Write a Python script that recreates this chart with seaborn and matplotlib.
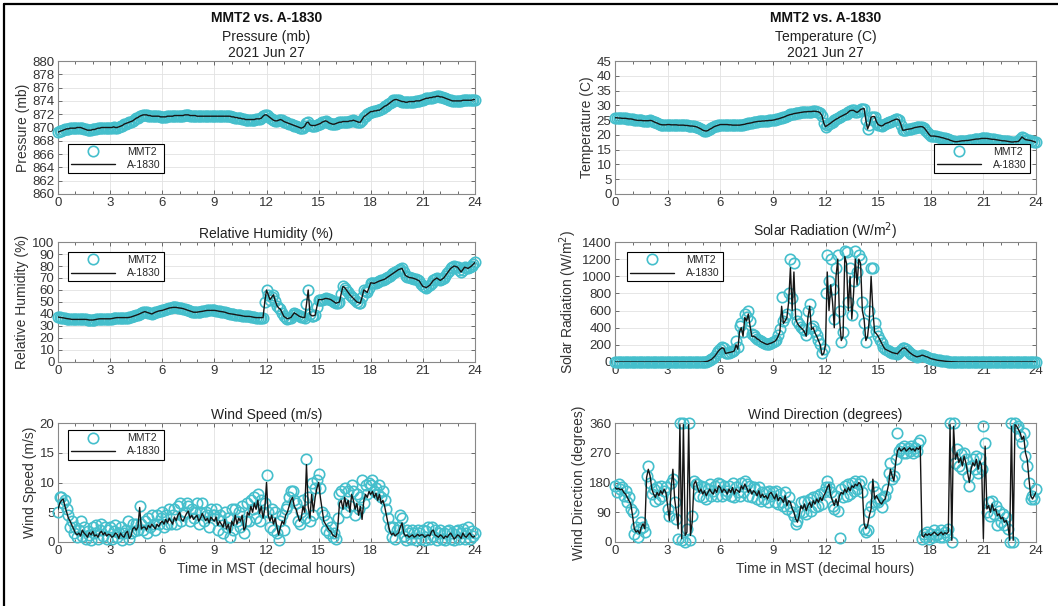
import numpy as np
import matplotlib
matplotlib.use("Agg")
import matplotlib.pyplot as plt
import seaborn as sns
from matplotlib.lines import Line2D
from matplotlib.ticker import MultipleLocator

# one reading every 6 minutes, 0..24 h MST (241 samples)
hours = np.linspace(0, 24, 241)

# each line = 1.5 hours (15 readings); final value is 24:00
pressure = [
    869.3, 869.4, 869.5, 869.6, 869.7, 869.8, 869.8, 869.9, 869.9, 869.9, 869.9, 870.0, 870.0, 870.0, 869.9,
    869.8, 869.7, 869.6, 869.6, 869.6, 869.7, 869.7, 869.8, 869.9, 869.9, 870.0, 870.0, 870.0, 870.0, 870.0,
    870.0, 870.0, 870.1, 870.0, 870.0, 870.1, 870.2, 870.3, 870.5, 870.6, 870.7, 870.8, 870.9, 871.0, 871.2,
    871.4, 871.5, 871.7, 871.8, 871.9, 871.9, 871.9, 871.8, 871.8, 871.7, 871.7, 871.7, 871.7, 871.7, 871.6,
    871.6, 871.6, 871.6, 871.7, 871.7, 871.7, 871.7, 871.8, 871.8, 871.8, 871.8, 871.8, 871.8, 871.9, 871.9,
    871.9, 871.8, 871.8, 871.8, 871.8, 871.7, 871.7, 871.7, 871.7, 871.7, 871.7, 871.7, 871.7, 871.7, 871.7,
    871.7, 871.7, 871.7, 871.7, 871.7, 871.7, 871.7, 871.7, 871.7, 871.7, 871.6, 871.6, 871.5, 871.5, 871.4,
    871.4, 871.3, 871.3, 871.2, 871.2, 871.2, 871.2, 871.2, 871.2, 871.3, 871.3, 871.3, 871.4, 871.7, 871.9,
    871.9, 871.7, 871.5, 871.3, 871.1, 871.0, 871.0, 871.1, 871.2, 871.1, 870.9, 870.8, 870.7, 870.6, 870.5,
    870.4, 870.3, 870.2, 870.1, 870.0, 869.9, 870.0, 870.2, 870.7, 870.8, 870.4, 870.3, 870.3, 870.3, 870.4,
    870.5, 870.6, 870.8, 870.9, 871.0, 870.9, 870.7, 870.6, 870.5, 870.5, 870.6, 870.7, 870.8, 870.8, 870.9,
    870.9, 870.9, 870.9, 871.0, 871.0, 871.1, 871.0, 870.9, 870.8, 870.8, 871.2, 871.6, 871.8, 872.0, 872.2,
    872.4, 872.4, 872.5, 872.5, 872.6, 872.6, 872.8, 873.0, 873.2, 873.3, 873.5, 873.7, 873.9, 874.1, 874.2,
    874.2, 874.1, 874.0, 873.9, 873.9, 873.8, 873.8, 873.9, 873.9, 873.9, 873.9, 874.0, 874.0, 874.0, 874.1,
    874.2, 874.3, 874.4, 874.4, 874.5, 874.5, 874.6, 874.6, 874.7, 874.7, 874.6, 874.6, 874.5, 874.4, 874.3,
    874.2, 874.1, 874.0, 874.0, 874.0, 874.0, 874.0, 874.0, 874.1, 874.1, 874.1, 874.1, 874.1, 874.1, 874.2,
    874.2,
]

temperature = [
    25.8, 25.8, 25.7, 25.7, 25.6, 25.6, 25.6, 25.5, 25.4, 25.4, 25.3, 25.1, 25.0, 24.9, 24.9,
    24.9, 24.8, 24.8, 24.8, 24.8, 24.9, 24.8, 24.5, 24.2, 24.0, 23.7, 23.5, 23.4, 23.4, 23.4,
    23.5, 23.5, 23.4, 23.4, 23.4, 23.4, 23.3, 23.3, 23.3, 23.3, 23.2, 23.2, 23.1, 23.0, 23.0,
    22.9, 22.8, 22.6, 22.3, 22.0, 21.6, 21.4, 21.3, 21.5, 21.9, 22.2, 22.6, 22.9, 23.1, 23.3,
    23.5, 23.5, 23.5, 23.5, 23.5, 23.4, 23.4, 23.3, 23.3, 23.3, 23.3, 23.3, 23.4, 23.5, 23.6,
    23.8, 23.9, 24.0, 24.1, 24.3, 24.4, 24.5, 24.6, 24.6, 24.7, 24.7, 24.8, 24.8, 24.9, 24.9,
    25.0, 25.1, 25.3, 25.4, 25.6, 25.8, 26.0, 26.2, 26.5, 26.7, 26.9, 27.0, 27.2, 27.3, 27.4,
    27.5, 27.6, 27.7, 27.8, 27.8, 27.9, 27.9, 27.9, 28.0, 28.0, 27.9, 27.8, 27.4, 26.5, 24.0,
    22.8, 23.2, 23.6, 24.0, 24.5, 24.9, 25.3, 25.6, 26.0, 26.3, 26.6, 26.9, 27.2, 27.7, 28.2,
    28.3, 28.3, 27.9, 27.6, 28.0, 28.6, 28.8, 28.9, 25.0, 22.0, 23.5, 26.0, 26.2, 26.2, 24.5,
    23.5, 23.2, 23.0, 23.3, 23.8, 24.0, 24.2, 24.5, 24.8, 25.0, 25.3, 25.3, 25.0, 23.5, 21.6,
    21.6, 21.8, 21.9, 22.0, 22.1, 22.3, 22.5, 22.6, 22.7, 22.8, 22.8, 22.5, 21.8, 21.0, 20.2,
    19.6, 19.6, 19.6, 19.5, 19.4, 19.3, 19.1, 19.0, 18.8, 18.6, 18.5, 18.2, 18.0, 17.8, 17.7,
    17.7, 17.8, 17.9, 18.0, 18.0, 18.1, 18.1, 18.2, 18.3, 18.4, 18.5, 18.6, 18.6, 18.7, 18.8,
    18.8, 18.8, 18.8, 18.7, 18.6, 18.5, 18.5, 18.4, 18.3, 18.2, 18.1, 18.0, 18.0, 17.9, 17.8,
    17.7, 17.6, 17.6, 17.7, 17.7, 17.8, 18.5, 19.3, 18.8, 18.4, 18.3, 18.2, 18.1, 17.9, 17.7,
    17.5,
]

humidity = [
    37.5, 37.2, 37.0, 36.8, 36.5, 36.2, 36.0, 35.8, 35.5, 35.5, 35.5, 35.5, 35.5, 35.5, 35.5,
    35.5, 35.5, 35.3, 35.0, 35.0, 35.0, 35.2, 35.5, 35.8, 36.0, 36.0, 36.0, 36.0, 36.0, 36.0,
    36.0, 36.2, 36.5, 36.8, 37.0, 37.0, 37.0, 37.0, 37.0, 37.0, 37.0, 37.2, 37.5, 38.0, 38.5,
    39.0, 39.5, 40.2, 41.0, 41.5, 42.0, 41.5, 41.0, 40.5, 40.0, 40.8, 41.5, 42.0, 42.5, 42.8,
    43.0, 43.5, 44.0, 44.5, 45.0, 45.2, 45.5, 45.5, 45.5, 45.2, 45.0, 44.8, 44.5, 44.0, 43.5,
    43.0, 42.5, 42.0, 41.5, 41.5, 41.5, 41.8, 42.0, 42.2, 42.5, 42.8, 43.0, 43.0, 43.0, 43.0,
    43.0, 42.8, 42.5, 42.2, 42.0, 41.8, 41.5, 41.0, 40.5, 40.2, 40.0, 39.8, 39.5, 39.2, 39.0,
    38.8, 38.5, 38.2, 38.0, 38.0, 38.0, 37.8, 37.5, 37.2, 37.0, 37.0, 37.0, 37.0, 37.0, 50.0,
    60.0, 56.0, 52.0, 54.0, 56.0, 51.0, 47.0, 45.0, 44.0, 41.0, 38.0, 37.0, 36.0, 36.5, 37.0,
    39.0, 41.0, 40.0, 39.0, 38.0, 37.5, 37.2, 37.0, 48.0, 60.0, 40.0, 38.5, 38.5, 39.0, 46.0,
    52.0, 52.0, 52.0, 52.5, 53.0, 52.8, 52.5, 52.0, 51.0, 50.0, 49.0, 49.5, 50.0, 57.0, 63.0,
    62.0, 60.0, 58.0, 56.0, 54.5, 53.0, 51.5, 50.0, 49.5, 49.0, 54.0, 60.0, 59.0, 58.0, 62.0,
    66.0, 65.8, 65.5, 66.2, 67.0, 67.5, 68.0, 68.5, 69.0, 70.0, 71.0, 72.0, 73.0, 74.0, 75.0,
    76.0, 77.0, 77.5, 78.0, 75.0, 72.0, 71.2, 70.5, 70.2, 70.0, 69.5, 69.0, 68.2, 67.5, 65.0,
    63.0, 62.5, 62.0, 63.0, 64.0, 66.0, 68.0, 69.0, 70.0, 69.0, 68.0, 69.0, 70.0, 72.0, 74.0,
    76.0, 78.0, 79.0, 80.0, 79.5, 79.0, 77.0, 75.0, 77.0, 79.0, 78.5, 78.0, 79.0, 80.0, 81.5,
    83.0,
]

solar_a1830 = [
    0, 0, 0, 0, 0, 0, 0, 0, 0, 0, 0, 0, 0, 0, 0,
    0, 0, 0, 0, 0, 0, 0, 0, 0, 0, 0, 0, 0, 0, 0,
    0, 0, 0, 0, 0, 0, 0, 0, 0, 0, 0, 0, 0, 0, 0,
    0, 0, 0, 0, 0, 0, 2, 5, 10, 20, 30, 50, 70, 100, 130,
    150, 165, 160, 100, 105, 110, 115, 120, 130, 200, 150, 350, 400, 300, 520,
    480, 560, 420, 300, 300, 290, 270, 260, 240, 230, 220, 210, 205, 215, 220,
    230, 240, 260, 300, 350, 650, 450, 480, 520, 700, 1100, 600, 1050, 500, 450,
    420, 400, 380, 350, 300, 520, 650, 380, 400, 340, 300, 250, 200, 80, 100,
    200, 1050, 600, 900, 700, 400, 1000, 1200, 500, 250, 300, 1230, 1150, 600, 1000,
    500, 800, 1200, 900, 1200, 1150, 600, 500, 250, 300, 500, 1000, 600, 350, 330,
    300, 260, 220, 180, 150, 140, 130, 120, 110, 105, 100, 95, 120, 140, 160,
    165, 150, 130, 110, 95, 80, 70, 60, 65, 70, 80, 75, 65, 60, 50,
    40, 35, 30, 25, 20, 18, 15, 12, 10, 7, 5, 4, 3, 2, 1,
    0, 0, 0, 0, 0, 0, 0, 0, 0, 0, 0, 0, 0, 0, 0,
    0, 0, 0, 0, 0, 0, 0, 0, 0, 0, 0, 0, 0, 0, 0,
    0, 0, 0, 0, 0, 0, 0, 0, 0, 0, 0, 0, 0, 0, 0,
    0,
]

solar_mmt2 = [
    0, 0, 0, 0, 0, 0, 0, 0, 0, 0, 0, 0, 0, 0, 0,
    0, 0, 0, 0, 0, 0, 0, 0, 0, 0, 0, 0, 0, 0, 0,
    0, 0, 0, 0, 0, 0, 0, 0, 0, 0, 0, 0, 0, 0, 0,
    0, 0, 0, 0, 0, 0, 2, 5, 10, 20, 30, 50, 70, 100, 130,
    150, 170, 165, 110, 105, 110, 120, 125, 140, 250, 180, 420, 450, 350, 560,
    520, 600, 480, 330, 310, 290, 270, 260, 240, 230, 220, 210, 205, 215, 220,
    230, 240, 260, 320, 380, 760, 480, 520, 560, 800, 1200, 750, 1150, 560, 480,
    440, 410, 390, 370, 320, 600, 680, 400, 420, 360, 310, 260, 210, 100, 150,
    800, 1250, 950, 1200, 850, 500, 1100, 1250, 600, 230, 350, 1300, 1280, 700, 1100,
    550, 950, 1300, 1050, 1250, 1200, 700, 450, 230, 350, 600, 1100, 1100, 450, 360,
    300, 260, 220, 180, 150, 140, 130, 120, 110, 105, 100, 95, 120, 140, 160,
    165, 150, 130, 110, 95, 80, 70, 60, 65, 70, 80, 75, 65, 60, 50,
    40, 35, 30, 25, 20, 18, 15, 12, 10, 7, 5, 4, 3, 2, 1,
    0, 0, 0, 0, 0, 0, 0, 0, 0, 0, 0, 0, 0, 0, 0,
    0, 0, 0, 0, 0, 0, 0, 0, 0, 0, 0, 0, 0, 0, 0,
    0, 0, 0, 0, 0, 0, 0, 0, 0, 0, 0, 0, 0, 0, 0,
    0,
]

wspd_a1830 = [
    5.5, 6.5, 7.0, 7.2, 6.0, 5.0, 4.0, 3.5, 2.8, 2.2, 1.5, 1.2, 1.5, 1.0, 2.0,
    1.5, 1.2, 0.8, 1.6, 1.2, 1.8, 1.0, 1.2, 0.8, 1.5, 1.8, 1.2, 1.6, 1.0, 1.3,
    1.2, 0.8, 1.0, 1.5, 1.3, 0.6, 1.5, 1.0, 0.8, 1.5, 1.8, 0.6, 1.0, 2.2, 2.5,
    2.0, 2.5, 5.8, 2.2, 2.5, 2.5, 2.0, 2.8, 2.4, 3.0, 2.6, 2.2, 3.0, 2.6, 3.2,
    3.5, 3.0, 3.8, 3.2, 4.0, 3.5, 3.0, 4.2, 3.6, 4.5, 5.0, 3.8, 3.5, 4.2, 4.8,
    5.2, 4.0, 4.5, 3.8, 4.2, 4.5, 3.5, 4.0, 4.8, 4.2, 3.6, 4.0, 3.2, 4.2, 3.8,
    3.5, 4.2, 2.8, 3.5, 3.0, 2.5, 3.8, 2.2, 3.0, 1.5, 3.5, 2.8, 4.5, 3.0, 4.0,
    3.5, 4.5, 2.0, 2.5, 5.0, 4.5, 6.0, 5.0, 6.5, 5.5, 7.0, 4.8, 6.0, 4.0, 5.5,
    10.0, 4.5, 3.5, 4.5, 3.0, 4.0, 2.5, 1.2, 2.5, 3.5, 3.0, 4.5, 5.0, 6.0, 7.0,
    7.5, 6.0, 5.5, 4.5, 3.5, 4.0, 6.0, 5.0, 13.0, 6.0, 4.0, 8.0, 5.0, 7.5, 9.0,
    10.0, 7.5, 5.5, 3.5, 3.0, 2.5, 2.0, 1.8, 1.2, 1.0, 0.8, 2.5, 6.5, 7.0, 5.5,
    7.5, 6.0, 7.0, 5.0, 8.0, 7.0, 5.5, 6.5, 4.5, 6.0, 3.8, 7.0, 8.0, 7.5, 8.5,
    8.0, 8.5, 7.5, 8.2, 7.0, 8.0, 6.5, 7.0, 6.0, 4.5, 3.0, 1.8, 1.2, 1.5, 1.0,
    1.3, 1.5, 2.5, 3.2, 1.5, 1.0, 1.2, 0.8, 1.0, 1.2, 0.8, 1.0, 1.3, 1.0, 1.2,
    1.2, 0.8, 1.0, 1.2, 1.0, 1.8, 2.0, 1.2, 1.0, 0.8, 1.2, 1.0, 0.6, 1.0, 0.8,
    1.2, 1.5, 1.0, 0.5, 0.8, 1.2, 1.0, 0.6, 1.5, 1.0, 0.8, 1.2, 1.5, 1.0, 0.8,
    1.0,
]

wspd_mmt2 = [
    5.0, 7.5, 7.5, 6.5, 7.0, 5.5, 4.5, 2.5, 3.5, 1.5, 2.5, 0.8, 2.0, 3.5, 1.0,
    2.5, 0.5, 1.8, 1.2, 0.3, 2.5, 1.5, 2.8, 0.5, 2.0, 3.0, 1.0, 2.5, 0.5, 2.0,
    2.5, 0.5, 1.8, 2.8, 0.8, 1.5, 2.5, 0.3, 1.5, 2.0, 3.5, 0.5, 1.5, 3.0, 1.8,
    3.0, 2.0, 6.0, 3.0, 2.0, 3.5, 1.5, 4.0, 2.5, 4.5, 3.0, 2.0, 4.5, 3.0, 4.0,
    5.0, 2.5, 4.5, 3.0, 5.5, 3.0, 4.5, 5.5, 3.0, 6.0, 6.5, 3.5, 4.5, 5.0, 6.5,
    6.0, 3.5, 5.5, 4.0, 5.0, 6.5, 3.0, 5.0, 6.5, 3.5, 5.0, 4.5, 2.5, 5.5, 4.5,
    4.5, 5.5, 2.0, 4.5, 3.5, 1.5, 5.0, 2.5, 4.0, 0.8, 5.5, 2.0, 5.5, 3.5, 5.0,
    2.5, 6.0, 1.5, 3.5, 6.5, 3.5, 7.0, 5.5, 7.5, 4.0, 8.0, 3.5, 7.0, 5.0, 6.5,
    11.3, 5.0, 2.5, 5.5, 2.0, 5.0, 1.5, 0.3, 3.5, 4.5, 2.0, 5.5, 6.0, 7.5, 8.5,
    8.5, 7.0, 6.5, 3.5, 3.0, 5.0, 7.0, 4.0, 14.0, 7.5, 3.5, 10.0, 4.5, 9.0, 10.5,
    11.5, 9.0, 5.0, 4.5, 2.0, 3.5, 1.5, 2.5, 0.8, 1.5, 0.5, 4.0, 8.0, 8.5, 6.5,
    9.0, 5.0, 8.5, 6.0, 9.5, 8.5, 4.5, 8.0, 5.5, 7.5, 10.5, 6.5, 9.5, 8.0, 10.0,
    9.5, 10.5, 8.5, 9.0, 8.0, 9.5, 7.5, 8.5, 7.0, 5.5, 4.0, 2.5, 0.8, 2.5, 0.5,
    2.0, 2.5, 4.5, 4.0, 1.0, 0.3, 2.0, 1.5, 0.5, 2.0, 1.5, 0.3, 2.0, 1.5, 0.5,
    2.0, 0.3, 1.8, 2.5, 0.5, 2.5, 1.0, 2.0, 0.3, 1.5, 2.0, 0.5, 1.5, 0.3, 1.8,
    2.0, 0.5, 1.5, 0.3, 1.8, 2.0, 0.5, 1.5, 2.2, 0.5, 1.5, 2.5, 0.5, 1.8, 1.0,
    1.5,
]

wdir_a1830 = [
    165, 160, 162, 158, 160, 150, 145, 135, 125, 115, 80, 40, 30, 35, 25,
    45, 55, 40, 195, 220, 200, 160, 145, 135, 150, 140, 155, 145, 160, 150,
    110, 65, 165, 220, 130, 90, 40, 355, 10, 355, 20, 30, 355, 20, 60,
    175, 185, 165, 150, 160, 145, 155, 140, 150, 160, 150, 145, 160, 150, 170,
    165, 150, 160, 155, 145, 160, 150, 165, 145, 160, 155, 150, 170, 160, 175,
    165, 150, 160, 145, 155, 150, 140, 155, 135, 145, 135, 140, 130, 145, 150,
    140, 130, 145, 125, 135, 130, 120, 140, 110, 125, 120, 100, 90, 70, 60,
    80, 110, 100, 115, 95, 110, 120, 105, 125, 115, 130, 120, 135, 125, 140,
    150, 165, 175, 140, 125, 110, 130, 110, 140, 150, 145, 160, 150, 165, 155,
    170, 165, 175, 170, 180, 175, 160, 55, 40, 50, 80, 100, 190, 130, 140,
    130, 120, 115, 125, 130, 150, 175, 220, 200, 185, 240, 275, 285, 275, 280,
    285, 275, 280, 285, 278, 282, 275, 285, 280, 290, 20, 15, 25, 20, 25,
    20, 25, 30, 25, 20, 25, 30, 22, 28, 25, 30, 355, 5, 350, 250,
    270, 240, 255, 230, 260, 240, 210, 180, 220, 240, 230, 250, 220, 245, 230,
    10, 290, 100, 110, 90, 115, 95, 100, 80, 85, 70, 75, 60, 65, 50,
    5, 350, 5, 355, 350, 340, 330, 310, 320, 270, 250, 190, 140, 130, 140,
    150,
]

wdir_mmt2 = [
    170, 150, 175, 160, 165, 140, 155, 120, 135, 100, 90, 25, 45, 15, 40,
    60, 45, 30, 200, 230, 180, 145, 160, 125, 165, 130, 170, 140, 155, 165,
    100, 80, 180, 190, 120, 70, 10, 360, 5, 360, 0, 40, 360, 5, 80,
    185, 175, 175, 140, 170, 135, 165, 130, 160, 175, 140, 155, 170, 140, 180,
    175, 140, 170, 145, 155, 170, 140, 180, 135, 165, 150, 140, 180, 150, 185,
    175, 140, 170, 135, 165, 160, 130, 165, 125, 150, 130, 150, 120, 155, 140,
    150, 120, 155, 115, 145, 120, 110, 150, 100, 135, 110, 90, 80, 55, 65,
    90, 120, 90, 125, 85, 120, 130, 95, 135, 105, 140, 110, 145, 115, 150,
    165, 185, 165, 150, 110, 100, 140, 95, 12, 160, 135, 170, 140, 175, 145,
    180, 155, 185, 160, 175, 185, 150, 40, 30, 35, 90, 110, 170, 120, 150,
    120, 130, 105, 135, 140, 160, 210, 240, 190, 200, 250, 330, 275, 285, 270,
    290, 270, 285, 275, 290, 270, 285, 275, 300, 310, 10, 25, 15, 30, 10,
    25, 15, 35, 20, 25, 15, 35, 15, 30, 20, 40, 360, 0, 360, 240,
    280, 230, 265, 220, 270, 250, 200, 170, 230, 250, 220, 260, 210, 255, 220,
    350, 300, 90, 120, 80, 125, 85, 110, 50, 95, 60, 85, 50, 75, 40,
    0, 360, 0, 360, 345, 350, 320, 300, 330, 260, 230, 180, 130, 140, 130,
    160,
]

CYAN = "#45bfcc"
W, H = 1058, 606

sns.set_theme(style="whitegrid")
plt.rcParams["font.family"] = ["Liberation Sans", "DejaVu Sans"]

fig = plt.figure(figsize=(W / 100, H / 100), dpi=100)
fig.patch.set_facecolor("white")


def px_axes(left, top, right, bottom):
    return fig.add_axes([left / W, 1 - bottom / H, (right - left) / W, (bottom - top) / H])


def panel(ax, mmt2, a1830, title, ylabel, ylim, ystep, legend=None):
    sns.lineplot(x=hours, y=mmt2, ax=ax, label="MMT2", linestyle="none", marker="o",
                 markersize=7.5, markerfacecolor="none", markeredgecolor=CYAN,
                 markeredgewidth=1.2, color=CYAN, clip_on=False, zorder=3)
    sns.lineplot(x=hours, y=a1830, ax=ax, label="A-1830", color="#151515", linewidth=1.0,
                 zorder=4)
    ax.set_xlim(0, 24)
    ax.set_ylim(*ylim)
    ax.set_xticks(range(0, 25, 3))
    ax.xaxis.set_minor_locator(MultipleLocator(1))
    ax.set_yticks(np.arange(ylim[0], ylim[1] + ystep / 2, ystep))
    ax.tick_params(which="both", direction="in", top=True, right=True, bottom=True, left=True,
                   color="#555555", width=0.6, labelsize=9.5, labelcolor="#333333", pad=2.5)
    ax.tick_params(which="major", length=3)
    ax.tick_params(which="minor", length=2)
    ax.grid(True, which="major", color="#e2e2e2", linewidth=0.6)
    for sp in ax.spines.values():
        sp.set_color("#888888")
        sp.set_linewidth(0.8)
    ax.set_ylabel(ylabel, fontsize=10, color="#333333", labelpad=2)
    ax.set_xlabel("")
    if title:
        ax.set_title(title, fontsize=10, color="#222222", pad=3)
    if legend is None:
        ax.get_legend().remove()
    else:
        loc, anchor = legend
        leg = ax.legend(loc=loc, bbox_to_anchor=anchor, borderaxespad=0, fontsize=7.5,
                        frameon=True, fancybox=False, edgecolor="black", framealpha=1,
                        handlelength=4.2, handletextpad=1.2, borderpad=0.3, labelspacing=0.3)
        leg.get_frame().set_linewidth(0.8)
        leg.set_zorder(10)


ax1 = px_axes(58, 61, 475, 194)
ax2 = px_axes(615, 61, 1036, 194)
ax3 = px_axes(58, 242, 475, 362)
ax4 = px_axes(615, 242, 1036, 362)
ax5 = px_axes(58, 423, 475, 542)
ax6 = px_axes(615, 423, 1036, 542)

panel(ax1, pressure, pressure, None, "Pressure (mb)", (860, 880), 2,
      ("lower left", (0.024, 0.158)))
panel(ax2, temperature, temperature, None, "Temperature (C)", (0, 45), 5,
      ("lower right", (0.986, 0.158)))
panel(ax3, humidity, humidity, "Relative Humidity (%)", "Relative Humidity (%)", (0, 100), 10,
      ("upper left", (0.024, 0.917)))
panel(ax4, solar_mmt2, solar_a1830, "Solar Radiation (W/m$^2$)", "Solar Radiation (W/m$^2$)",
      (0, 1400), 200, ("upper left", (0.0285, 0.917)))
panel(ax5, wspd_mmt2, wspd_a1830, "Wind Speed (m/s)", "Wind Speed (m/s)", (0, 20), 5,
      ("upper left", (0.024, 0.94)))
panel(ax6, wdir_mmt2, wdir_a1830, "Wind Direction (degrees)", "Wind Direction (degrees)",
      (0, 360), 90)

for ax in (ax5, ax6):
    ax.set_xlabel("Time in MST (decimal hours)", fontsize=10, color="#333333", labelpad=3)

# three-line headers over the top panels
for cx, name in ((266.5, "Pressure (mb)"), (825.5, "Temperature (C)")):
    fig.text(cx / W, 1 - 18 / H, "MMT2 vs. A-1830", ha="center", va="center",
             fontsize=10, fontweight="bold", color="#111111")
    fig.text(cx / W, 1 - 37 / H, name, ha="center", va="center", fontsize=10, color="#222222")
    fig.text(cx / W, 1 - 53 / H, "2021 Jun 27", ha="center", va="center", fontsize=10,
             color="#222222")

# frame edges along the left and top of the picture
fig.add_artist(Line2D([4 / W, 4 / W], [0, 1 - 4 / H], color="black", linewidth=1.6))
fig.add_artist(Line2D([4 / W, 1], [1 - 4 / H, 1 - 4 / H], color="black", linewidth=1.6))

fig.savefig("out.png", dpi=100)
